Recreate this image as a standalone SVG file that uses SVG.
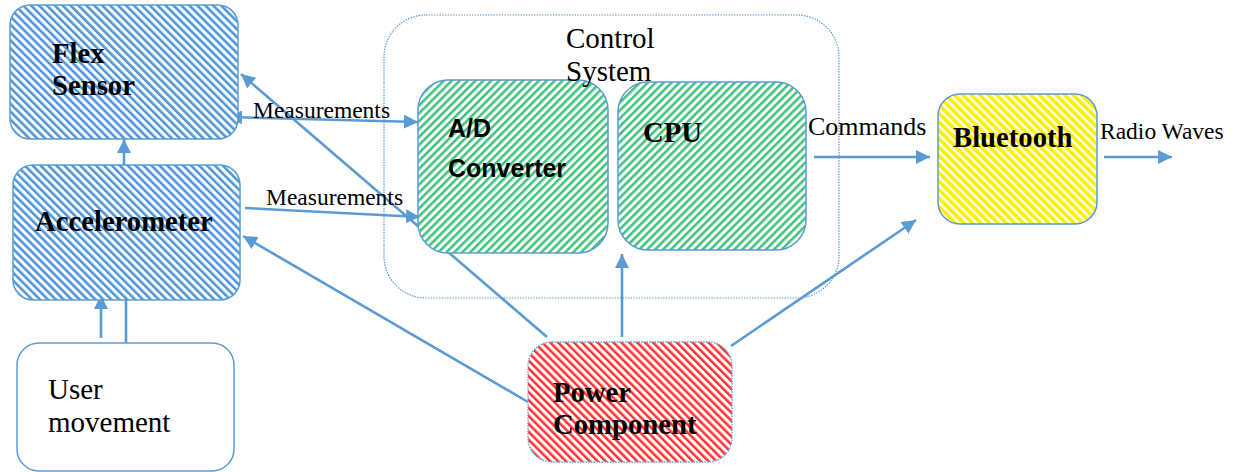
<svg xmlns="http://www.w3.org/2000/svg" width="1245" height="472" viewBox="0 0 1245 472">
<defs>
<pattern id="pBlue" patternUnits="userSpaceOnUse" width="5.6" height="5.6" patternTransform="rotate(-45)"><rect width="5.6" height="5.6" fill="#fff"/><rect width="2.5" height="5.6" fill="#4A93D6"/></pattern>
<pattern id="pGreen" patternUnits="userSpaceOnUse" width="5.6" height="5.6" patternTransform="rotate(45)"><rect width="5.6" height="5.6" fill="#fff"/><rect width="2.5" height="5.6" fill="#3CC27C"/></pattern>
<pattern id="pRed" patternUnits="userSpaceOnUse" width="5.6" height="5.6" patternTransform="rotate(-45)"><rect width="5.6" height="5.6" fill="#fff"/><rect width="2.5" height="5.6" fill="#FF3030"/></pattern>
<pattern id="pYellow" patternUnits="userSpaceOnUse" width="6" height="6" patternTransform="rotate(-45)"><rect width="6" height="6" fill="#fff"/><rect width="3.6" height="6" fill="#FFF000"/></pattern>
<marker id="ah" markerUnits="userSpaceOnUse" markerWidth="16" markerHeight="14" refX="14" refY="7" orient="auto-start-reverse"><path d="M0,0 L14,7 L0,14 Z" fill="#5B9BD5"/></marker>
</defs>
<style>
.box{stroke:#5B9BD5;stroke-width:1.5}
.conn{stroke:#5B9BD5;stroke-width:2.6;fill:none}
.bt{font-family:"Liberation Serif","Times New Roman",serif;font-weight:bold;font-size:28.7px;fill:#000}
.rt{font-family:"Liberation Serif","Times New Roman",serif;font-size:29px;fill:#000}
.lbl{font-family:"Liberation Serif","Times New Roman",serif;font-size:23.5px;fill:#000}
.st{font-family:"Liberation Sans",Arial,sans-serif;font-weight:bold;font-size:25px;fill:#000}
</style>
<g id="control-system">
<rect x="384" y="15" width="455" height="283" rx="42" fill="none" stroke="#5B9BD5" stroke-width="1.2" stroke-dasharray="1.5 1.2"/>
</g>
<g id="connectors">
<line class="conn" x1="228" y1="117" x2="418" y2="122" marker-start="url(#ah)" marker-end="url(#ah)"/>
<line class="conn" x1="547" y1="337" x2="241" y2="74" marker-end="url(#ah)"/>
<line class="conn" x1="245" y1="208" x2="420" y2="217" marker-end="url(#ah)"/>
<line class="conn" x1="528" y1="402" x2="243" y2="236" marker-end="url(#ah)"/>
<line class="conn" x1="622" y1="337" x2="622" y2="254" marker-end="url(#ah)"/>
<line class="conn" x1="731" y1="346" x2="916" y2="220" marker-end="url(#ah)"/>
<line class="conn" x1="814" y1="157" x2="930" y2="157" marker-end="url(#ah)"/>
<line class="conn" x1="1104" y1="157" x2="1172" y2="157" marker-end="url(#ah)"/>
<line class="conn" x1="124" y1="165" x2="124" y2="139" marker-end="url(#ah)"/>
<line class="conn" x1="101" y1="338" x2="101" y2="295" marker-end="url(#ah)"/>
<line class="conn" x1="126" y1="343" x2="126" y2="300"/>
<text class="lbl" x="253" y="118">Measurements</text>
<text class="lbl" x="266" y="205">Measurements</text>
<text class="lbl" x="808" y="135" style="font-size:26px">Commands</text>
<text class="lbl" x="1100" y="139">Radio Waves</text>
</g>
<g id="flex-sensor">
<rect class="box" x="10" y="5" width="228" height="134" rx="20" fill="url(#pBlue)"/>
<text class="bt" x="52" y="63">Flex</text>
<text class="bt" x="52" y="95">Sensor</text>
</g>
<g id="accelerometer">
<rect class="box" x="13" y="165" width="227" height="135" rx="20" fill="url(#pBlue)"/>
<text class="bt" x="35" y="231">Accelerometer</text>
</g>
<g id="user-movement">
<rect class="box" x="17" y="343" width="217" height="128" rx="22" fill="#fff"/>
<text class="rt" x="48" y="399">User</text>
<text class="rt" x="48" y="432">movement</text>
</g>
<g id="ad-converter">
<rect class="box" x="418" y="80" width="190" height="173" rx="30" fill="url(#pGreen)"/>
<text class="st" x="448" y="137">A/D</text>
<text class="st" x="448" y="177">Converter</text>
</g>
<g id="cpu">
<rect class="box" x="618" y="82" width="188" height="168" rx="30" fill="url(#pGreen)"/>
<text class="bt" x="643" y="142">CPU</text>
</g>
<g id="bluetooth">
<rect class="box" x="938" y="94" width="159" height="130" rx="22" fill="url(#pYellow)"/>
<text class="bt" x="953" y="147">Bluetooth</text>
</g>
<g id="power-component">
<rect x="528" y="342" width="204" height="120" rx="24" fill="url(#pRed)" stroke="#5B9BD5" stroke-width="1.3" stroke-dasharray="1.5 1.2"/>
<text class="bt" x="553" y="402">Power</text>
<text class="bt" x="553" y="434">Component</text>
</g>
<g id="control-system-label">
<text class="rt" x="566" y="48">Control</text>
<text class="rt" x="566" y="81">System</text>
</g>
</svg>
